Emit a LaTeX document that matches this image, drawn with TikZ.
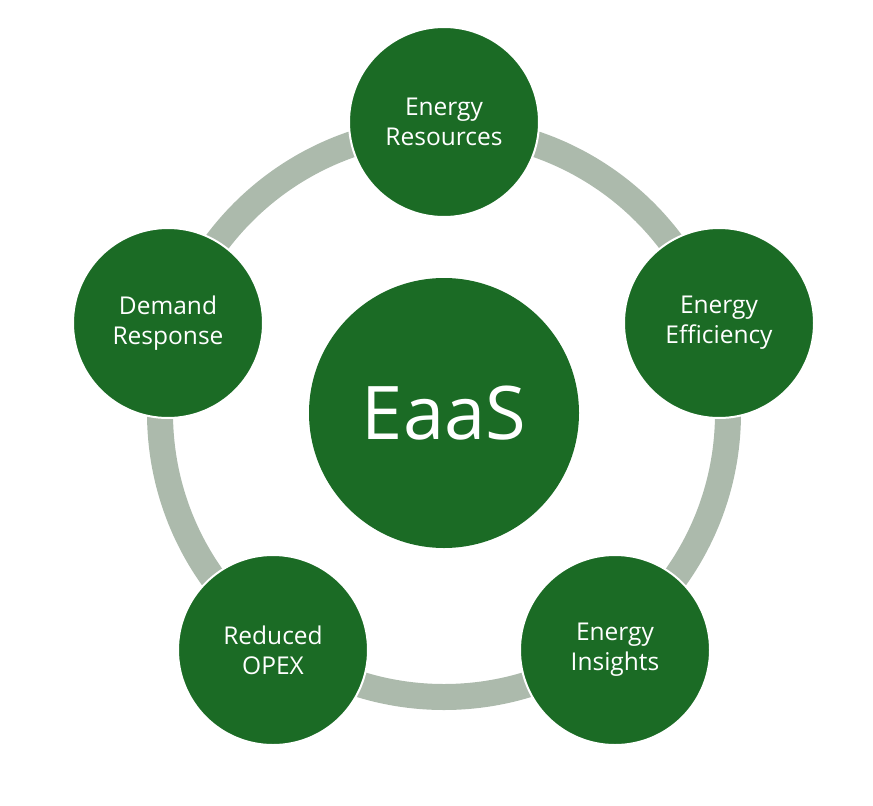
\documentclass[tikz,border=0pt]{standalone}
\usepackage{fontspec}
\setmainfont{Open Sans}
\usetikzlibrary{positioning}

\definecolor{eaasgreen}{HTML}{1B6B25}
\definecolor{ringgrey}{HTML}{ACBAAC}

\begin{document}
\begin{tikzpicture}[
    x=1pt, y=-1pt,
    hub/.style={circle, fill=eaasgreen, text=white, minimum size=270pt,
                inner sep=0pt, font=\fontsize{74}{80}\selectfont},
    pillar/.style={circle, fill=eaasgreen, draw=white, line width=2pt,
                   minimum size=190pt, inner sep=0pt, align=center, text=white,
                   font=\fontsize{24.5}{30}\selectfont},
  ]
  \useasboundingbox (0,0) rectangle (873,806);
  \node[hub] (eaas) at (444,413) {EaaS};
  % grey ring behind the five outer circles
  \draw[ringgrey, line width=26pt] (eaas.center) circle[radius=284pt];
  \node[pillar] (res) at (444,122) {Energy\\Resources};
  \node[pillar] (eff) at (719,323) {Energy\\Efficiency};
  \node[pillar] (ins) at (615,650) {Energy\\Insights};
  \node[pillar] (opex) at (273,650) {Reduced\\OPEX};
  \node[pillar] (dem) at (168,323) {Demand\\Response};
\end{tikzpicture}
\end{document}
